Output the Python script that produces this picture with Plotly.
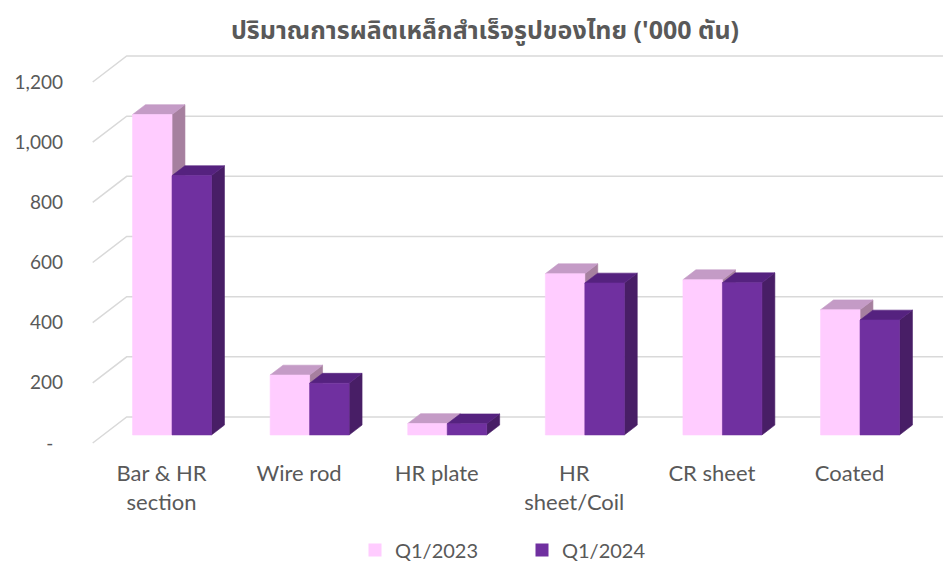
import plotly.graph_objects as go

# ---- data ----
categories = ["Bar & HR<br>section", "Wire rod", "HR plate", "HR<br>sheet/Coil", "CR sheet", "Coated"]
series_names = ["Q1/2023", "Q1/2024"]
q1_2023 = [1065, 199, 38, 536, 516, 416]
q1_2024 = [862, 172, 37, 505, 506, 382]
y_ticks = [0, 200, 400, 600, 800, 1000, 1200]
y_tick_labels = ["-\u00a0\u00a0", "200", "400", "600", "800", "1,000", "1,200"]

# ---- styling / 3D projection parameters ----
front_col = ["#FFCCFF", "#7030A0"]
top_col = ["#C49BC6", "#55227F"]
side_col = ["#A6809F", "#481E66"]
grid_col = "#D9D9D9"
text_col = "#595959"
FONT = "Lato, 'Noto Sans', sans-serif"

DX = 0.2471    # depth shift of back wall, in category units
DY = 86.4      # depth shift of back wall, in value units
F1, F2 = 0.31, 0.69   # bar front/back depth fractions
W = 0.287      # width of a single bar (category units)

fig = go.Figure()

# gridlines (side wall diagonal + back wall horizontal)
gx, gy = [], []
x_left, x_right = -0.5, len(categories) - 0.5 + DX + 0.5
for v in y_ticks:
    gx += [x_left, x_left + DX, x_right, None]
    gy += [v, v + DY, v + DY, None]
fig.add_trace(go.Scatter(x=gx, y=gy, mode="lines", line=dict(color=grid_col, width=1.5),
                         hoverinfo="skip", showlegend=False))

d = (F2 - F1) * DX
e = (F2 - F1) * DY
base = F1 * DY

def poly(xs, ys, color):
    fig.add_trace(go.Scatter(x=xs + [xs[0]], y=ys + [ys[0]], mode="lines", fill="toself",
                             fillcolor=color, line=dict(color=color, width=0.6),
                             hoverinfo="skip", showlegend=False))

for i in range(len(categories)):
    for s, vals in enumerate([q1_2023, q1_2024]):
        v = vals[i]
        x0 = i + F1 * DX - W + s * W
        x1 = x0 + W
        # side face
        poly([x1, x1 + d, x1 + d, x1], [base, base + e, base + v + e, base + v], side_col[s])
        # top face
        poly([x0, x1, x1 + d, x0 + d], [base + v, base + v, base + v + e, base + v + e], top_col[s])
        # front face
        poly([x0, x1, x1, x0], [base, base, base + v, base + v], front_col[s])

# legend entries
for s, name in enumerate(series_names):
    fig.add_trace(go.Scatter(x=[None], y=[None], mode="markers", name=name,
                             marker=dict(symbol="square", size=13, color=front_col[s])))

PX_CAT = 137.6
PX_VAL = 60.17 / 200
L, T, B = 66, 50, 450
fig.update_layout(
    width=943, height=563,
    margin=dict(l=L, r=0, t=T, b=563 - B),
    plot_bgcolor="white", paper_bgcolor="white",
    font=dict(family=FONT, color=text_col, size=19),
    title=dict(text="<b>ปริมาณการผลิตเหล็กสำเร็จรูปของไทย ('000 ตัน)</b>",
               x=485 / 943, xref="container", xanchor="center",
               y=1 - 30 / 563, yref="container", yanchor="middle",
               font=dict(size=25, color=text_col,
                         family="'Noto Sans Thai', 'Noto Sans', Lato, sans-serif")),
    xaxis=dict(range=[(L - 161.5) / PX_CAT, (943 - 161.5) / PX_CAT],
               tickvals=list(range(len(categories))), ticktext=categories,
               showgrid=False, zeroline=False, showline=False, ticks="",
               automargin=False, ticklabelstandoff=8,
               tickfont=dict(size=22, color=text_col)),
    yaxis=dict(range=[(443 - B) / PX_VAL, (443 - T) / PX_VAL],
               tickvals=y_ticks, ticktext=y_tick_labels,
               showgrid=False, zeroline=False, showline=False, ticks="",
               automargin=False, ticklabelstandoff=2,
               tickfont=dict(size=19, color=text_col)),
    legend=dict(orientation="h", x=355 / 943, xref="container", xanchor="left",
                y=1 - 550 / 563, yref="container", yanchor="middle",
                font=dict(size=20, color=text_col),
                entrywidth=122, entrywidthmode="pixels"),
    showlegend=True,
)

fig.write_html("out.html", config={"displayModeBar": False},
               post_script="document.body.style.margin='0';")
